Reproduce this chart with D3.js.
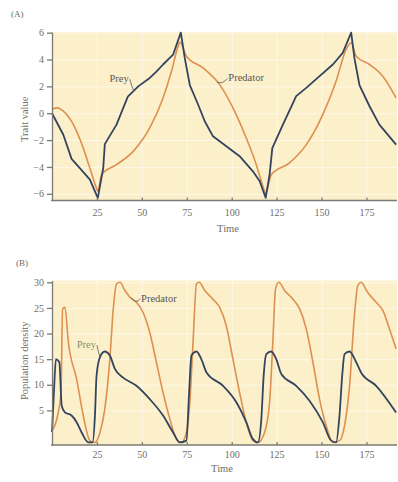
<!DOCTYPE html>
<html>
<head>
<meta charset="utf-8">
<script src="https://cdn.jsdelivr.net/npm/d3@7"></script>
<style>
	body { margin: 0; background: #fff; }
	svg { display: block; font-family: "Liberation Serif", "DejaVu Serif", serif; }
	.axis path, .axis line { stroke: #7a7a72; stroke-width: 1.3; }
	.axis text { fill: #6e6e68; font-size: 10px; font-family: "Liberation Serif", serif; }
	.grid line { stroke: #ffffff; stroke-opacity: 0.55; }
	.grid path { display: none; }
</style>
</head>
<body>
<div id="chart"></div>
<script>
	'use strict';
	// ---- panel A : trait values ----
	var preyTraitTime = [0, 6.3, 10.9, 15.6, 21.1, 24.8, 25.5, 28.5, 29.4, 35.9, 42.2, 48, 54.4, 58.1, 61.8, 67.4, 71.7, 73.9, 76.7, 81.3, 85, 89.6, 97, 104.4, 111.8, 115.6, 118.9, 121.1, 122.6, 128.5, 135.9, 141.5, 148.9, 156.3, 161.8, 166.5, 168.3, 171.1, 176.7, 182.2, 191.5];
	var preyTrait = [0, -1.6, -3.4, -4.1, -4.95, -6.1, -6.3, -4.1, -2.3, -0.85, 1.24, 2.0, 2.63, 3.1, 3.63, 4.37, 6.0, 4.1, 2.1, 0.65, -0.6, -1.72, -2.46, -3.2, -4.33, -5.07, -6.3, -4.58, -2.6, -0.85, 1.27, 1.89, 2.76, 3.63, 4.5, 6.0, 4.1, 2.1, 0.52, -0.85, -2.34];
	var predTraitTime = [0, 3, 6.3, 11.9, 17.4, 21.1, 24.8, 25.5, 27.6, 35.9, 45.2, 54.4, 61.8, 66.5, 70.2, 71.2, 74.8, 84, 93.3, 100.7, 108.1, 113.7, 117.4, 118.9, 122, 132.2, 141.5, 150.7, 158.1, 163.7, 166.5, 169.3, 176.7, 184.1, 191.5];
	var predTrait = [0.3, 0.4, 0.15, -0.85, -2.6, -4.1, -5.6, -5.8, -4.58, -3.83, -2.84, -1.1, 1.14, 3.13, 5.0, 5.3, 4.25, 3.38, 2.13, 0.4, -1.84, -3.83, -5.45, -5.95, -4.58, -3.7, -2.34, -0.1, 2.39, 4.75, 5.25, 4.25, 3.63, 2.76, 1.14];

	// ---- panel B : population densities ----
	var preyPopTime = [0, 1.0, 2.2, 4.1, 5.4, 7.2, 10.9, 13.7, 16.5, 20.2, 22.6, 23.9, 24.8, 26.7, 29.4, 32.2, 35, 39.6, 47, 54.4, 61.8, 67.4, 71.1, 74.8, 76.3, 77.6, 80.4, 83.1, 86, 95.2, 102.6, 108.1, 111.8, 114.6, 116.5, 117.8, 119.3, 122, 124.8, 127.6, 135.9, 143.3, 150.7, 155.4, 158.1, 160, 161.5, 162.8, 165.6, 169.3, 172, 180.4, 191.5];
	var preyPop = [0.8, 8, 15, 14.4, 5.9, 4.6, 4.0, 2.7, 0.7, -1.25, -1.25, 4, 11.8, 15.4, 16.5, 15.7, 13.1, 11.4, 9.8, 7.2, 4, 0.7, -1.25, -0.9, 8.5, 15.7, 16.5, 15, 12.4, 9.8, 6.6, 2.7, -0.6, -1.25, 3.3, 11.8, 16, 16.5, 15, 12.1, 9.8, 6.9, 2.7, -0.9, -1.25, 4, 11.8, 16, 16.5, 14.4, 12.4, 9.8, 4.6];
	var predPopTime = [0, 3.1, 5.0, 5.9, 7.2, 9.1, 13.7, 17.4, 21.1, 23.9, 26.7, 29.4, 32.2, 34.1, 35.9, 37.8, 40.6, 43.3, 47, 50.7, 54.4, 58.1, 61.8, 65.6, 69.3, 72, 74.8, 76.7, 78.5, 80.4, 81.9, 85, 89.6, 93.3, 97, 100.7, 104.4, 108.1, 111.8, 114.6, 118.3, 121.1, 122.9, 124.4, 126.3, 129.4, 134.1, 137.8, 141.5, 145.2, 148.9, 152.6, 156.3, 160, 162.8, 165.6, 168.3, 170.2, 172, 175.7, 180.4, 184.1, 187.8, 191.5];
	var predPop = [1.0, 4, 8.5, 24.8, 25.1, 18.3, 11.1, 4, -0.9, -1.25, 0.7, 5.3, 15, 24.8, 29.7, 30, 28.4, 27.1, 26.1, 24.1, 20.2, 14.4, 8.5, 3.3, -0.6, -1.25, 0.7, 6.6, 18.3, 29.7, 30, 28.4, 26.7, 25.1, 21.5, 15, 8.5, 2.7, -0.9, -1.25, 0.7, 6.6, 18.3, 28.7, 30, 28.4, 26.7, 24.8, 20.9, 14.4, 7.2, 2, -1.25, -0.9, 2, 9.8, 23.5, 29.4, 30, 28, 26.1, 24.5, 20.9, 17];

	// axis ticks
	var timeTicks = [25, 50, 75, 100, 125, 150, 175];
	var traitTicks = [-6, -4, -2, 0, 2, 4, 6];
	var popTicks = [5, 10, 15, 20, 25, 30];

	var W = 398, H = 482;
	var PREY_COLOR = '#34445f', PRED_COLOR = '#df8f50', BG = '#fcf0ca', TEXT = '#6e6e68';

	var svg = d3.select('#chart').append('svg')
		.attr('width', W)
		.attr('height', H);

	function zip(xs, ys) {
		return xs.map(function (x, i) { return [x, ys[i]]; });
	}

	/**
	 * drawPanel draws one of the two stacked panels
	 */
	function drawPanel(cfg) {
		var x = d3.scaleLinear().domain([0, 192]).range([cfg.left, cfg.right]);
		var y = d3.scaleLinear().domain(cfg.yDomain).range([cfg.bottom, cfg.top]);

		// plot background
		svg.append('rect')
			.attr('x', cfg.left)
			.attr('y', cfg.top)
			.attr('width', cfg.right - cfg.left)
			.attr('height', cfg.bottom - cfg.top)
			.attr('fill', BG);

		// faint white grid
		svg.append('g')
			.attr('class', 'grid')
			.attr('transform', 'translate(0,' + cfg.bottom + ')')
			.call(d3.axisBottom(x).tickValues(timeTicks).tickSize(-(cfg.bottom - cfg.top)).tickFormat(''));
		svg.append('g')
			.attr('class', 'grid')
			.attr('transform', 'translate(' + cfg.left + ',0)')
			.call(d3.axisLeft(y).tickValues(cfg.yTicks).tickSize(-(cfg.right - cfg.left)).tickFormat(''));

		// curves
		function line(curve) {
			return d3.line()
				.x(function (d) { return x(d[0]); })
				.y(function (d) { return y(d[1]); })
				.curve(curve);
		}

		svg.append('path')
			.datum(zip(cfg.predTime, cfg.pred))
			.attr('fill', 'none')
			.attr('stroke', PRED_COLOR)
			.attr('stroke-width', 1.6)
			.attr('stroke-linejoin', 'round')
			.attr('d', line(cfg.predCurve));

		svg.append('path')
			.datum(zip(cfg.preyTime, cfg.prey))
			.attr('fill', 'none')
			.attr('stroke', PREY_COLOR)
			.attr('stroke-width', 1.8)
			.attr('stroke-linejoin', 'round')
			.attr('d', line(cfg.preyCurve));

		// axes
		var xAxis = svg.append('g')
			.attr('class', 'axis')
			.attr('transform', 'translate(0,' + cfg.bottom + ')')
			.call(d3.axisBottom(x).tickValues(timeTicks).tickSizeInner(-3).tickSizeOuter(0).tickPadding(cfg.xPad));
		xAxis.select('.domain').attr('d', 'M' + (cfg.left - 1) + ',0H' + cfg.right);

		svg.append('g')
			.attr('class', 'axis')
			.attr('transform', 'translate(' + cfg.left + ',0)')
			.call(d3.axisLeft(y).tickValues(cfg.yTicks).tickSizeInner(5).tickSizeOuter(0).tickPadding(3));

		// panel label and axis titles
		svg.append('text')
			.attr('x', cfg.tagX)
			.attr('y', cfg.tagY)
			.attr('fill', TEXT)
			.style('font-size', '9px')
			.text(cfg.tag);

		svg.append('text')
			.attr('transform', 'translate(28,' + ((cfg.top + cfg.bottom) / 2 + cfg.yLabelShift) + ') rotate(-90)')
			.attr('text-anchor', 'middle')
			.attr('fill', TEXT)
			.style('font-size', '10.5px')
			.text(cfg.yLabel);

		svg.append('text')
			.attr('x', cfg.timeX)
			.attr('y', cfg.bottom + cfg.timeDy)
			.attr('text-anchor', 'middle')
			.attr('fill', TEXT)
			.style('font-size', '10.5px')
			.text('Time');

		// curve annotations
		cfg.notes.forEach(function (n) {
			var px = x(n.at[0]), py = y(n.at[1]);
			var tx = px + n.dx, ty = py + n.dy;
			svg.append('path')
				.attr('d', 'M' + px + ',' + py + 'Q' + (px + tx) / 2 + ',' + (ty + 3) + ' ' + (tx + (n.anchor === 'end' ? 1 : -1)) + ',' + (ty - 3))
				.attr('fill', 'none')
				.attr('stroke', '#55555a')
				.attr('stroke-width', 0.8);
			svg.append('text')
				.attr('x', tx)
				.attr('y', ty)
				.attr('text-anchor', n.anchor)
				.attr('fill', n.color)
				.style('font-size', '10.5px')
				.text(n.text);
		});
	}

	drawPanel({
		top: 32, bottom: 200.5, left: 52, right: 397,
		yDomain: [-6.5, 6.05], yTicks: traitTicks,
		preyTime: preyTraitTime, prey: preyTrait,
		predTime: predTraitTime, pred: predTrait,
		preyCurve: d3.curveLinear, predCurve: d3.curveMonotoneX,
		xPad: 8,
		tag: '(A)', tagX: 11, tagY: 17,
		yLabel: 'Trait value', yLabelShift: 3,
		timeX: 228, timeDy: 31,
		notes: [
			{ text: 'Prey', at: [45.5, 1.65], dx: -5, dy: -9, anchor: 'end', color: '#55555a' },
			{ text: 'Predator', at: [92, 2.3], dx: 11, dy: -1, anchor: 'start', color: '#55555a' }
		]
	});

	drawPanel({
		top: 280.5, bottom: 445, left: 52, right: 397,
		yDomain: [-1.75, 30.35], yTicks: popTicks,
		preyTime: preyPopTime, prey: preyPop,
		predTime: predPopTime, pred: predPop,
		preyCurve: d3.curveMonotoneX, predCurve: d3.curveMonotoneX,
		xPad: 6,
		tag: '(B)', tagX: 16, tagY: 266,
		yLabel: 'Population density', yLabelShift: -2,
		timeX: 222, timeDy: 27,
		notes: [
			{ text: 'Predator', at: [44, 27], dx: 10, dy: 4, anchor: 'start', color: '#55555a' },
			{ text: 'Prey', at: [26.7, 15.4], dx: -4, dy: -9, anchor: 'end', color: '#8a9070' }
		]
	});
</script>
</body>
</html>
